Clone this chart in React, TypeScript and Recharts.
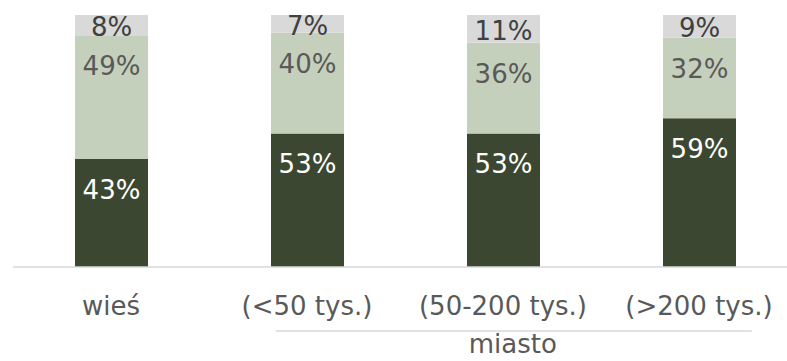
import { BarChart, Bar, XAxis, YAxis, LabelList } from 'recharts'

const categories = ['wieś', '(<50 tys.)', '(50-200 tys.)', '(>200 tys.)']
const darkValues = [43, 53, 53, 59]
const lightValues = [49, 40, 36, 32]
const grayValues = [8, 7, 11, 9]
const groupLabel = 'miasto'
// the group bracket sits under categories 1..3, its label is drawn from the middle one
const groupMiddle = 2

const data = categories.map((name, i) => ({
  name,
  dark: darkValues[i],
  light: lightValues[i],
  gray: grayValues[i],
}))

const FONT = '"DejaVu Sans", sans-serif'

const makeLabel = (fill: string) => (props: any) => {
  const { x, y, width, height, value } = props
  const cy = height > 62 ? y + 31 : y + height / 2 + 2
  return (
    <text
      x={x + width / 2}
      y={cy}
      fill={fill}
      fontSize={26}
      fontFamily={FONT}
      textAnchor="middle"
      dominantBaseline="central"
    >
      {`${value}%`}
    </text>
  )
}

const CategoryTick = (props: any) => {
  const { x, y, payload, index, width } = props
  const band = (width || 784) / categories.length
  return (
    <g>
      <text x={x} y={y + 40} fill="#595959" fontSize={26} fontFamily={FONT} textAnchor="middle">
        {payload.value}
      </text>
      {index === groupMiddle && (
        <g>
          <line
            x1={x - band * 1.16}
            x2={x + band * 1.27}
            y1={y + 56}
            y2={y + 56}
            stroke="#d9d9d9"
            strokeWidth={1.5}
          />
          <text x={x + band * 0.05} y={y + 78} fill="#595959" fontSize={26} fontFamily={FONT} textAnchor="middle">
            {groupLabel}
          </text>
        </g>
      )}
    </g>
  )
}

export default function App() {
  return (
    <div style={{ position: 'absolute', left: 0, top: 0, width: 787, height: 361, overflow: 'hidden', background: '#fff' }}>
      <BarChart
        width={800}
        height={361}
        data={data}
        margin={{ top: 15, right: 3, bottom: 0, left: 13 }}
        barSize={73}
      >
        <XAxis
          dataKey="name"
          axisLine={{ stroke: '#d9d9d9', strokeWidth: 1.5 }}
          tickLine={false}
          tick={<CategoryTick />}
          interval={0}
          height={94}
        />
        <YAxis hide domain={[0, 100]} />
        <Bar dataKey="dark" stackId="a" fill="#3b4731" isAnimationActive={false}>
          <LabelList dataKey="dark" content={makeLabel('#ffffff')} />
        </Bar>
        <Bar dataKey="light" stackId="a" fill="#c5d0bc" isAnimationActive={false}>
          <LabelList dataKey="light" content={makeLabel('#595959')} />
        </Bar>
        <Bar dataKey="gray" stackId="a" fill="#d9d9d9" isAnimationActive={false}>
          <LabelList dataKey="gray" content={makeLabel('#404040')} />
        </Bar>
      </BarChart>
    </div>
  )
}
